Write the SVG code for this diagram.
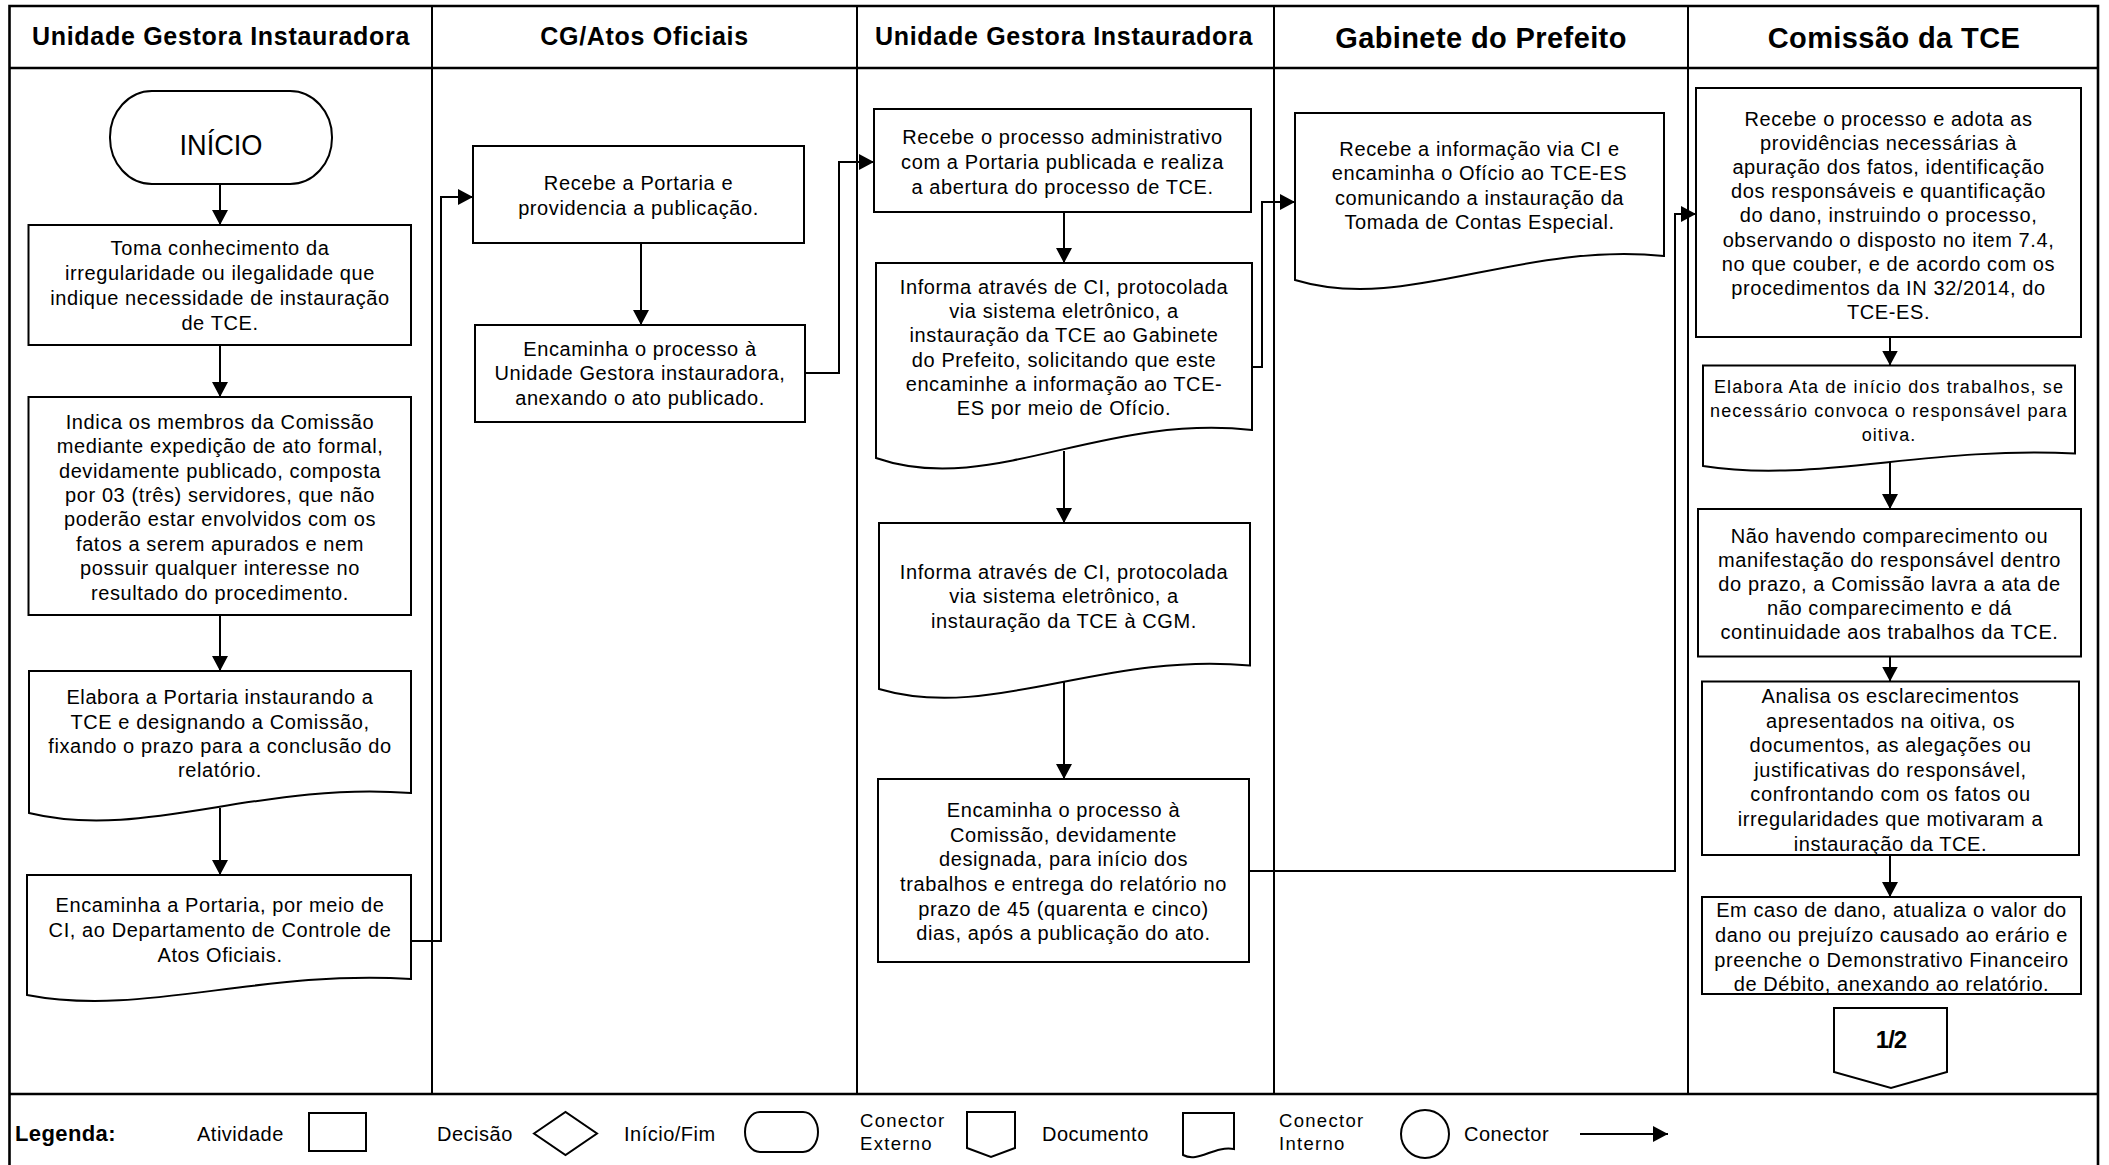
<svg xmlns="http://www.w3.org/2000/svg" width="2109" height="1165" viewBox="0 0 2109 1165">
<defs>
<style>
.bg{fill:#fff}
.frame{fill:none;stroke:#000;stroke-width:2.6}
.lane{fill:none;stroke:#000;stroke-width:2}
.box{fill:#fff;stroke:#000;stroke-width:2}
.conn{fill:none;stroke:#000;stroke-width:2;marker-end:url(#arr)}
text{font-family:"Liberation Sans",Arial,sans-serif;fill:#000}
.h{font-size:25px;font-weight:bold;text-anchor:middle;letter-spacing:0.7px}
.hb{font-size:29px;font-weight:bold;text-anchor:middle;letter-spacing:0.4px}
.t{font-size:20px;text-anchor:middle;letter-spacing:0.6px}
.ts{font-size:18px;text-anchor:middle;letter-spacing:1.1px}
.lg{font-size:20px;letter-spacing:0.5px}
.lgs{font-size:18.5px;letter-spacing:1.3px}
</style>
<marker id="arr" markerUnits="userSpaceOnUse" viewBox="0 0 15 16" refX="15" refY="8" markerWidth="15" markerHeight="16" orient="auto">
<path d="M0,0 L15,8 L0,16 Z" fill="#000"/>
</marker>
</defs>
<rect class="bg" x="0" y="0" width="2109" height="1165"/>

<g id="frame">
<path class="frame" d="M9.5,1165 V6 H2098 V1165"/>
<line class="frame" x1="9.5" y1="68" x2="2098" y2="68"/>
<line class="frame" x1="9.5" y1="1094" x2="2098" y2="1094"/>
<line class="lane" x1="432" y1="6" x2="432" y2="1094"/>
<line class="lane" x1="857" y1="6" x2="857" y2="1094"/>
<line class="lane" x1="1274" y1="6" x2="1274" y2="1094"/>
<line class="lane" x1="1688" y1="6" x2="1688" y2="1094"/>
</g>

<g id="headers">
<text class="h" x="221" y="45">Unidade Gestora Instauradora</text>
<text class="h" x="644.5" y="45">CG/Atos Oficiais</text>
<text class="h" x="1064" y="45">Unidade Gestora Instauradora</text>
<text class="hb" x="1481" y="48">Gabinete do Prefeito</text>
<text class="hb" x="1894" y="48">Comissão da TCE</text>
</g>

<g id="connectors">
<path class="conn" d="M220,184 V225"/>
<path class="conn" d="M220,345 V397"/>
<path class="conn" d="M220,615 V671"/>
<path class="conn" d="M220,808 V875"/>
<path class="conn" d="M411,941 H441 V197 H473"/>
<path class="conn" d="M641,243 V325"/>
<path class="conn" d="M805,373 H839 V162 H874"/>
<path class="conn" d="M1064,212 V263"/>
<path class="conn" d="M1252,367 H1262 V202 H1295"/>
<path class="conn" d="M1064,451 V523"/>
<path class="conn" d="M1064,682 V779"/>
<path class="conn" d="M1249,871 H1675 V214 H1696"/>
<path class="conn" d="M1890,337 V365.5"/>
<path class="conn" d="M1890,462 V509"/>
<path class="conn" d="M1890,656.5 V681.5"/>
<path class="conn" d="M1890,855 V897"/>
</g>

<g id="inicio">
<rect class="box" x="110" y="91" width="222" height="93" rx="42" ry="46"/>
<text x="221" y="155" font-size="30" text-anchor="middle" textLength="83" lengthAdjust="spacingAndGlyphs">INÍCIO</text>
</g>

<g id="toma">
<rect class="box" x="28.5" y="225" width="382.5" height="120"/>
<text class="t"><tspan x="220" y="255">Toma conhecimento da</tspan><tspan x="220" y="280">irregularidade ou ilegalidade que</tspan><tspan x="220" y="305">indique necessidade de instauração</tspan><tspan x="220" y="330">de TCE.</tspan></text>
</g>

<g id="indica">
<rect class="box" x="28.5" y="397" width="382.5" height="218"/>
<text class="t"><tspan x="220" y="428.7">Indica os membros da Comissão</tspan><tspan x="220" y="453.1">mediante expedição de ato formal,</tspan><tspan x="220" y="477.5">devidamente publicado, composta</tspan><tspan x="220" y="501.9">por 03 (três) servidores, que não</tspan><tspan x="220" y="526.3">poderão estar envolvidos com os</tspan><tspan x="220" y="550.7">fatos a serem apurados e nem</tspan><tspan x="220" y="575.1">possuir qualquer interesse no</tspan><tspan x="220" y="599.5">resultado do procedimento.</tspan></text>
</g>

<g id="elabora-portaria">
<path class="box" d="M29,671 H411 V793 C258.2,781 143.6,841 29,813 Z"/>
<text class="t"><tspan x="220" y="704">Elabora a Portaria instaurando a</tspan><tspan x="220" y="728.5">TCE e designando a Comissão,</tspan><tspan x="220" y="753">fixando o prazo para a conclusão do</tspan><tspan x="220" y="777">relatório.</tspan></text>
</g>

<g id="encaminha-portaria">
<path class="box" d="M27,875 H411 V979 C257.4,969.4 142.2,1017.4 27,995 Z"/>
<text class="t"><tspan x="220" y="912">Encaminha a Portaria, por meio de</tspan><tspan x="220" y="937">CI, ao Departamento de Controle de</tspan><tspan x="220" y="962">Atos Oficiais.</tspan></text>
</g>

<g id="recebe-portaria">
<rect class="box" x="473" y="146" width="331" height="97"/>
<text class="t"><tspan x="638.5" y="190">Recebe a Portaria e</tspan><tspan x="638.5" y="215">providencia a publicação.</tspan></text>
</g>

<g id="encaminha-unidade">
<rect class="box" x="475" y="325" width="330" height="97"/>
<text class="t"><tspan x="640" y="356">Encaminha o processo à</tspan><tspan x="640" y="380">Unidade Gestora instauradora,</tspan><tspan x="640" y="405">anexando o ato publicado.</tspan></text>
</g>

<g id="recebe-processo">
<rect class="box" x="874" y="109" width="377" height="103"/>
<text class="t"><tspan x="1062.5" y="144">Recebe o processo administrativo</tspan><tspan x="1062.5" y="169">com a Portaria publicada e realiza</tspan><tspan x="1062.5" y="194">a abertura do processo de TCE.</tspan></text>
</g>

<g id="informa-gabinete">
<path class="box" d="M876,263 H1252 V430 C1101.6,413.2 988.8,497.2 876,458 Z"/>
<text class="t"><tspan x="1064" y="294">Informa através de CI, protocolada</tspan><tspan x="1064" y="318.2">via sistema eletrônico, a</tspan><tspan x="1064" y="342.4">instauração da TCE ao Gabinete</tspan><tspan x="1064" y="366.6">do Prefeito, solicitando que este</tspan><tspan x="1064" y="390.8">encaminhe a informação ao TCE-</tspan><tspan x="1064" y="415">ES por meio de Ofício.</tspan></text>
</g>

<g id="informa-cgm">
<path class="box" d="M879,523 H1250 V665.5 C1101.6,651.4 990.3,721.9 879,689 Z"/>
<text class="t"><tspan x="1064" y="579">Informa através de CI, protocolada</tspan><tspan x="1064" y="603">via sistema eletrônico, a</tspan><tspan x="1064" y="628">instauração da TCE à CGM.</tspan></text>
</g>

<g id="encaminha-comissao">
<rect class="box" x="878" y="779" width="371" height="183"/>
<text class="t"><tspan x="1063.5" y="817">Encaminha o processo à</tspan><tspan x="1063.5" y="842">Comissão, devidamente</tspan><tspan x="1063.5" y="866">designada, para início dos</tspan><tspan x="1063.5" y="891">trabalhos e entrega do relatório no</tspan><tspan x="1063.5" y="916">prazo de 45 (quarenta e cinco)</tspan><tspan x="1063.5" y="940">dias, após a publicação do ato.</tspan></text>
</g>

<g id="gabinete">
<path class="box" d="M1295,113 H1664 V256 C1516.4,241.6 1405.7,313.6 1295,280 Z"/>
<text class="t"><tspan x="1479.5" y="156">Recebe a informação via CI e</tspan><tspan x="1479.5" y="180">encaminha o Ofício ao TCE-ES</tspan><tspan x="1479.5" y="205">comunicando a instauração da</tspan><tspan x="1479.5" y="229">Tomada de Contas Especial.</tspan></text>
</g>

<g id="comissao-recebe">
<rect class="box" x="1696" y="88" width="385" height="249"/>
<text class="t"><tspan x="1888.5" y="125.5">Recebe o processo e adota as</tspan><tspan x="1888.5" y="149.7">providências necessárias à</tspan><tspan x="1888.5" y="173.9">apuração dos fatos, identificação</tspan><tspan x="1888.5" y="198.1">dos responsáveis e quantificação</tspan><tspan x="1888.5" y="222.3">do dano, instruindo o processo,</tspan><tspan x="1888.5" y="246.5">observando o disposto no item 7.4,</tspan><tspan x="1888.5" y="270.7">no que couber, e de acordo com os</tspan><tspan x="1888.5" y="294.9">procedimentos da IN 32/2014, do</tspan><tspan x="1888.5" y="319.1">TCE-ES.</tspan></text>
</g>

<g id="comissao-ata">
<path class="box" d="M1703,365.5 H2075 V453.5 C1926.2,446 1814.6,483.5 1703,466 Z"/>
<text class="ts"><tspan x="1889" y="393">Elabora Ata de início dos trabalhos, se</tspan><tspan x="1889" y="417">necessário convoca o responsável para</tspan><tspan x="1889" y="441">oitiva.</tspan></text>
</g>

<g id="comissao-nao-comparecimento">
<rect class="box" x="1698" y="509" width="383" height="147.5"/>
<text class="t"><tspan x="1889.5" y="543">Não havendo comparecimento ou</tspan><tspan x="1889.5" y="567">manifestação do responsável dentro</tspan><tspan x="1889.5" y="591">do prazo, a Comissão lavra a ata de</tspan><tspan x="1889.5" y="615">não comparecimento e dá</tspan><tspan x="1889.5" y="639">continuidade aos trabalhos da TCE.</tspan></text>
</g>

<g id="comissao-analisa">
<rect class="box" x="1702" y="681.5" width="377" height="173.5"/>
<text class="t"><tspan x="1890.5" y="703">Analisa os esclarecimentos</tspan><tspan x="1890.5" y="727.6">apresentados na oitiva, os</tspan><tspan x="1890.5" y="752.2">documentos, as alegações ou</tspan><tspan x="1890.5" y="776.8">justificativas do responsável,</tspan><tspan x="1890.5" y="801.4">confrontando com os fatos ou</tspan><tspan x="1890.5" y="826">irregularidades que motivaram a</tspan><tspan x="1890.5" y="850.6">instauração da TCE.</tspan></text>
</g>

<g id="comissao-dano">
<rect class="box" x="1702" y="897" width="379" height="97"/>
<text class="t"><tspan x="1891.5" y="917">Em caso de dano, atualiza o valor do</tspan><tspan x="1891.5" y="941.5">dano ou prejuízo causado ao erário e</tspan><tspan x="1891.5" y="967">preenche o Demonstrativo Financeiro</tspan><tspan x="1891.5" y="991">de Débito, anexando ao relatório.</tspan></text>
</g>

<g id="conector-1-2">
<path class="box" d="M1834,1008 H1947 V1072 L1891,1088 L1834,1072 Z"/>
<text x="1891" y="1048" font-size="24" font-weight="bold" text-anchor="middle" letter-spacing="-1">1/2</text>
</g>

<g id="legenda">
<text x="15" y="1141" font-size="22" font-weight="bold" letter-spacing="0.4">Legenda:</text>
<text class="lg" x="197" y="1141">Atividade</text>
<rect class="box" x="309" y="1113" width="57" height="38"/>
<text class="lg" x="437" y="1141">Decisão</text>
<path class="box" d="M534,1133.5 L565.5,1112 L597,1133.5 L565.5,1155 Z"/>
<text class="lg" x="624" y="1141">Início/Fim</text>
<rect class="box" x="745" y="1112" width="73" height="40" rx="15" ry="20"/>
<text class="lgs" x="860" y="1127">Conector</text>
<text class="lgs" x="860" y="1150">Externo</text>
<path class="box" d="M967,1112 H1015 V1148 L991,1157 L967,1148 Z"/>
<text class="lg" x="1042" y="1141">Documento</text>
<path class="box" d="M1183,1113 H1234 V1149 C1213.6,1145.4 1198.3,1163.4 1183,1155 Z"/>
<text class="lgs" x="1279" y="1127">Conector</text>
<text class="lgs" x="1279" y="1150">Interno</text>
<circle class="box" cx="1425" cy="1134" r="24"/>
<text class="lg" x="1464" y="1141">Conector</text>
<line class="conn" x1="1580" y1="1134" x2="1668" y2="1134"/>
</g>
</svg>
